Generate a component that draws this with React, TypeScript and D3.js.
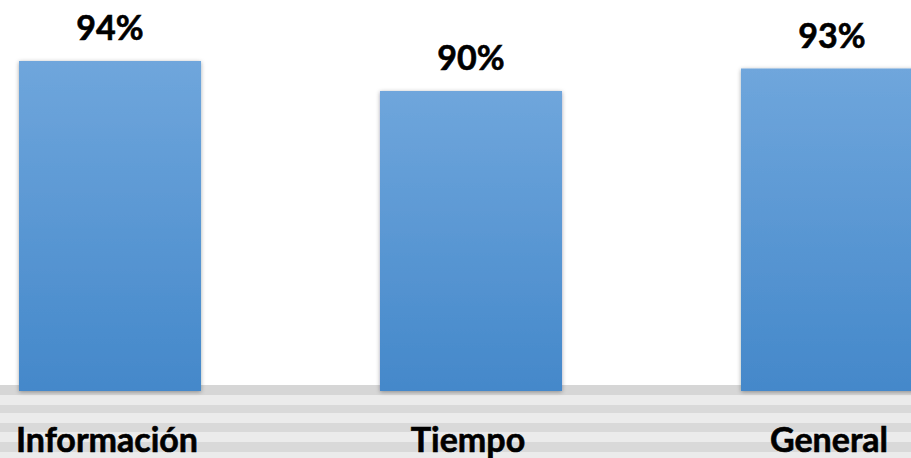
import { useEffect, useRef } from "react";
import * as d3 from "d3";

const categories = ["Información", "Tiempo", "General"];
const values = [0.94, 0.9, 0.93];
const valueLabels = ["94%", "90%", "93%"];

const W = 911;
const H = 458;

const App = () => {
  const ref = useRef<SVGSVGElement>(null);

  useEffect(() => {
    const svg = d3.select(ref.current as SVGSVGElement);
    svg.selectAll("*").remove();

    const x = d3
      .scaleBand<string>()
      .domain(categories)
      .range([19, 923])
      .paddingInner(0.4958)
      .paddingOuter(0);
    const y = d3.scaleLinear().domain([0.5, 1]).range([391, 16]);

    const defs = svg.append("defs");
    const grad = defs
      .append("linearGradient")
      .attr("id", "barGrad")
      .attr("x1", 0)
      .attr("y1", 0)
      .attr("x2", 0)
      .attr("y2", 1);
    grad.append("stop").attr("offset", "0%").attr("stop-color", "#6fa6dc");
    grad.append("stop").attr("offset", "100%").attr("stop-color", "#4488ca");

    const f = defs
      .append("filter")
      .attr("id", "shadow")
      .attr("x", "-10%")
      .attr("y", "-10%")
      .attr("width", "120%")
      .attr("height", "120%");
    f.append("feDropShadow")
      .attr("dx", 0)
      .attr("dy", 1)
      .attr("stdDeviation", 2)
      .attr("flood-color", "#000")
      .attr("flood-opacity", 0.35);

    // floor stripes
    const stripes = [
      [385, 395, "#d6d6d6"],
      [395, 405, "#ebebeb"],
      [405, 413, "#d9d9d9"],
      [413, 423, "#ebebeb"],
      [423, 432, "#d9d9d9"],
      [432, 442, "#ebebeb"],
      [442, 452, "#d9d9d9"],
      [452, 458, "#ebebeb"],
    ] as [number, number, string][];
    svg
      .append("g")
      .selectAll("rect")
      .data(stripes)
      .enter()
      .append("rect")
      .attr("x", 0)
      .attr("width", W)
      .attr("y", (d) => d[0])
      .attr("height", (d) => d[1] - d[0])
      .attr("fill", (d) => d[2]);

    svg
      .append("g")
      .selectAll("rect")
      .data(values)
      .enter()
      .append("rect")
      .attr("x", (d, i) => x(categories[i]) as number)
      .attr("width", x.bandwidth())
      .attr("y", (d) => y(d))
      .attr("height", (d) => y(0.5) - y(d))
      .attr("fill", "url(#barGrad)")
      .attr("filter", "url(#shadow)");

    const font = (sel: any) =>
      sel
        .attr("text-anchor", "middle")
        .style("font-family", "Lato, 'Open Sans', sans-serif")
        .style("font-weight", 700)
        .style("font-size", "34px")
        .style("fill", "#000")
        .style("stroke", "#000")
        .style("stroke-width", 0.6);

    svg
      .append("g")
      .selectAll("text")
      .data(values)
      .enter()
      .append("text")
      .attr("x", (d, i) => (x(categories[i]) as number) + x.bandwidth() / 2)
      .attr("y", (d) => y(d) - 21)
      .call(font)
      .text((d, i) => valueLabels[i]);

    svg
      .append("g")
      .selectAll("text")
      .data(categories)
      .enter()
      .append("text")
      .attr("x", (d) => (x(d) as number) + x.bandwidth() / 2 - 3)
      .attr("y", 452)
      .call(font)
      .text((d) => d);
  }, []);

  return (
    <svg
      ref={ref}
      width={W}
      height={H}
      style={{ position: "absolute", left: 0, top: 0, background: "#fff" }}
    />
  );
};

export default App;
